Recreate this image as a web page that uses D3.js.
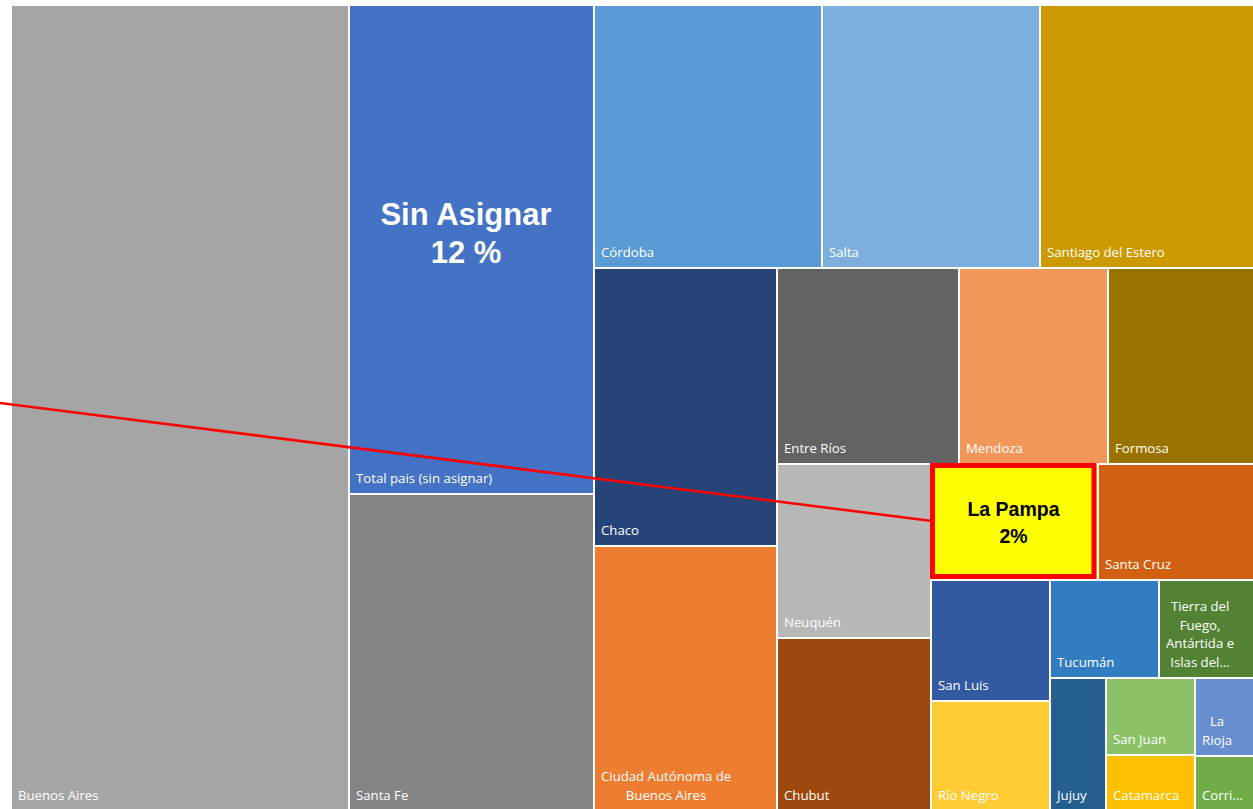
<!DOCTYPE html>
<html><head><meta charset="utf-8">
<script src="https://cdn.jsdelivr.net/npm/d3@7"></script>
<style>body{margin:0;background:#fff} svg{display:block}</style>
</head><body><svg id="chart" width="1253" height="809"></svg>
<script>
// ---- data (shares of total, %) ----
const provinces = ["Buenos Aires","Total pais (sin asignar)","Santa Fe","Córdoba","Salta","Santiago del Estero",
  "Chaco","Ciudad Autónoma de Buenos Aires","Entre Ríos","Mendoza","Formosa","Neuquén","Chubut","La Pampa",
  "Santa Cruz","San Luis","Río Negro","Tucumán","Tierra del Fuego, Antártida e Islas del Atlántico Sur",
  "Jujuy","San Juan","Catamarca","La Rioja","Corrientes"];
const shares = [27.16, 11.93, 7.74, 5.99, 5.73, 5.63, 5.09, 4.85, 3.56, 2.90, 2.88, 2.67, 2.64, 1.94,
  1.83, 1.43, 1.31, 1.06, 0.94, 0.74, 0.68, 0.50, 0.47, 0.33];
const labels = ["Buenos Aires","Total pais (sin asignar)","Santa Fe","Córdoba","Salta","Santiago del Estero",
  "Chaco","Ciudad Autónoma de\nBuenos Aires","Entre Ríos","Mendoza","Formosa","Neuquén","Chubut","La Pampa",
  "Santa Cruz","San Luis","Río Negro","Tucumán","Tierra del\nFuego,\nAntártida e\nIslas del...",
  "Jujuy","San Juan","Catamarca","La\nRioja","Corri..."];
const colors = ["#a5a5a5","#4472c4","#848484","#5b9bd5","#7cafdd","#cc9a00",
  "#264478","#ed7d31","#636363","#f1975a","#997300","#b7b7b7","#9e480e","#ffff00",
  "#d26012","#335aa1","#ffcd33","#327dc2","#548235",
  "#255e91","#8cc168","#ffc000","#698ed0","#70ad47"];
// number of tiles in each successive strip of the layout
const stripSizes = [1,2,3,2,3,2,2,2,2,1,2,2];
const highlightName = "La Pampa";
const highlightText = ["La Pampa","2%"];
const calloutName = "Total pais (sin asignar)";
const calloutText = ["Sin Asignar","12 %"];

// ---- layout ----
const svg = d3.select("#chart");
const X0 = 12, Y0 = 6, X1 = 1254, Y1 = 810;
const root = d3.hierarchy({name:"root", children: provinces.map((p,i)=>({name:p, value:shares[i], label:labels[i], color:colors[i]}))})
  .sum(d => d.value || 0);

function stripTile(parent, x0, y0, x1, y1) {
  const nodes = parent.children;
  let value = parent.value, i = 0;
  stripSizes.forEach(k => {
    const row = {children: nodes.slice(i, i + k)};
    row.value = d3.sum(row.children, d => d.value);
    const dx = x1 - x0, dy = y1 - y0;
    const last = i + k >= nodes.length;
    if (last) {
      if (dx > dy) d3.treemapDice(row, x0, y0, x1, y1); else d3.treemapSlice(row, x0, y0, x1, y1);
    } else if (dx < dy) {
      const y = y0 + dy * row.value / value;
      d3.treemapDice(row, x0, y0, x1, y); y0 = y;
    } else {
      const x = x0 + dx * row.value / value;
      d3.treemapSlice(row, x0, y0, x, y1); x0 = x;
    }
    value -= row.value; i += k;
  });
}

d3.treemap().tile(stripTile).size([X1 - X0, Y1 - Y0]).paddingInner(2).round(true)(root);

const g = svg.append("g").attr("transform", `translate(${X0},${Y0})`);
const leaves = root.leaves();

g.selectAll("rect.cell").data(leaves).join("rect").attr("class","cell")
  .attr("x", d => d.x0).attr("y", d => d.y0)
  .attr("width", d => d.x1 - d.x0).attr("height", d => d.y1 - d.y0)
  .attr("fill", d => d.data.color);

// small labels: bottom-left, multi-line blocks centred on their widest line
leaves.filter(d => d.data.name !== highlightName).forEach(d => {
  const lines = d.data.label.split("\n");
  const t = g.append("g");
  const texts = lines.map((ln, j) => t.append("text")
    .attr("font-family", "'Open Sans', sans-serif").attr("font-size", 13.2)
    .attr("fill", "#ffffff")
    .attr("y", d.y1 - 10 - (lines.length - 1 - j) * 18.7)
    .text(ln));
  const ws = texts.map(tx => tx.node().getComputedTextLength());
  const maxW = d3.max(ws);
  texts.forEach((tx, j) => tx.attr("x", d.x0 + 6 + (maxW - ws[j]) / 2));
});

// callout line to highlighted tile
const hl = leaves.find(d => d.data.name === highlightName);
g.append("line")
  .attr("x1", -X0).attr("y1", 397)
  .attr("x2", hl.x0).attr("y2", (hl.y0 + hl.y1) / 2 - 1)
  .attr("stroke", "#ff0000").attr("stroke-width", 2.6);

// highlighted tile
g.append("rect")
  .attr("x", hl.x0 + 0.5).attr("y", hl.y0 + 0.5)
  .attr("width", hl.x1 - hl.x0 - 3.5).attr("height", hl.y1 - hl.y0 - 3)
  .attr("fill", "#ffff00").attr("stroke", "#ff0000").attr("stroke-width", 5);
const hcx = (hl.x0 + hl.x1) / 2, hcy = (hl.y0 + hl.y1) / 2;
highlightText.forEach((s, j) => g.append("text")
  .attr("x", hcx - 1).attr("y", hcy - 6 + j * 27)
  .attr("text-anchor", "middle")
  .attr("font-family", "'Liberation Sans', Arial, sans-serif").attr("font-weight", "bold")
  .attr("font-size", 19.5).attr("fill", "#000").text(s));

// big callout in the unassigned tile
const ca = leaves.find(d => d.data.name === calloutName);
calloutText.forEach((s, j) => g.append("text")
  .attr("x", (ca.x0 + ca.x1) / 2 - 5.5).attr("y", ca.y0 + 219 + j * 38)
  .attr("text-anchor", "middle")
  .attr("font-family", "'Liberation Sans', Arial, sans-serif").attr("font-weight", "bold")
  .attr("font-size", 31).attr("fill", "#ffffff").text(s));
</script></body></html>
